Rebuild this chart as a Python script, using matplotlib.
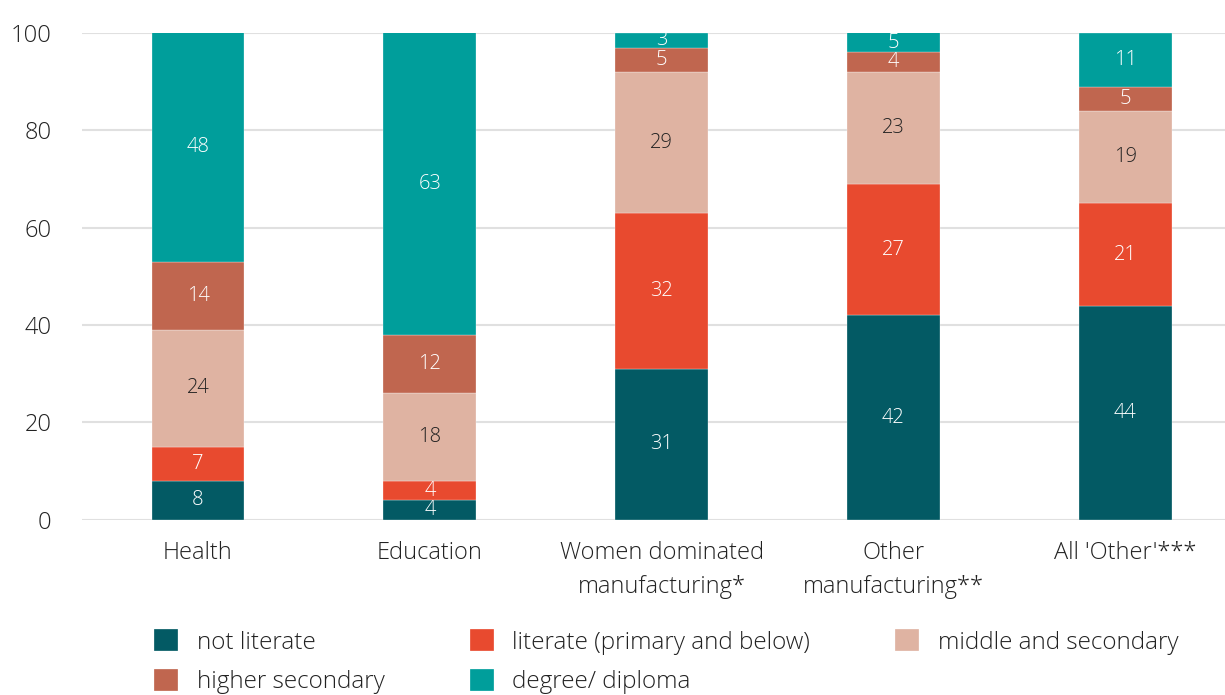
import matplotlib.pyplot as plt
import numpy as np

plt.rcParams['font.family'] = ['Open Sans', 'DejaVu Sans']

categories = ['Health', 'Education', 'Women dominated\nmanufacturing*',
              'Other\nmanufacturing**', "All 'Other'***"]
series = ['not literate', 'literate (primary and below)', 'middle and secondary',
          'higher secondary', 'degree/ diploma']
not_literate = [8, 4, 31, 42, 44]
literate = [7, 4, 32, 27, 21]
middle_secondary = [24, 18, 29, 23, 19]
higher_secondary = [14, 12, 5, 4, 5]
degree = [48, 63, 3, 5, 11]

colors = ['#035a64', '#e84a2f', '#dfb3a2', '#c0664f', '#009e9b']
label_colors = ['white', 'white', '#222222', 'white', 'white']

values = [not_literate, literate, middle_secondary, higher_secondary, degree]

fig = plt.figure(figsize=(12.25, 6.95), dpi=100)
ax = fig.add_axes([0.067, 0.252, 0.933, 0.7005])

x = np.arange(len(categories))
bottom = np.zeros(len(categories))
handles = []
for vals, col, lc, name in zip(values, colors, label_colors, series):
    vals = np.array(vals, dtype=float)
    bars = ax.bar(x, vals, width=0.40, bottom=bottom, color=col, label=name,
                  zorder=3, edgecolor='white', linewidth=0.2)
    handles.append(bars)
    for xi, b, v in zip(x, bottom, vals):
        top = min(b + v, 100)
        yc = (b + top) / 2
        ax.text(xi, yc, '%d' % v, ha='center', va='center', color=lc,
                fontsize=14.5, fontweight='light', zorder=4)
    bottom += vals

ax.set_ylim(0, 100)
ax.set_xlim(-0.5, 4.43)
ax.set_yticks(range(0, 101, 20))
ax.yaxis.grid(True, color='#e0e0e0', linewidth=1.5, zorder=0)
ax.set_axisbelow(True)
for s in ax.spines.values():
    s.set_visible(False)
ax.tick_params(axis='both', length=0, labelsize=17, colors='#222222')
ax.tick_params(axis='y', pad=22)
ax.tick_params(axis='x', pad=15)
ax.set_xticks(x)
ax.set_xticklabels(categories, fontweight='light', linespacing=1.55)
for t in ax.get_yticklabels():
    t.set_fontweight('light')

order = [0, 3, 1, 4, 2]
leg = fig.legend([handles[i] for i in order], [series[i] for i in order],
                 loc='lower left', bbox_to_anchor=(0.108, -0.03), ncol=3,
                 frameon=False, fontsize=17.5, handlelength=1.0, handleheight=1.0,
                 columnspacing=3.5, labelspacing=0.58, handletextpad=0.75)
for t in leg.get_texts():
    t.set_fontweight('light')
    t.set_color('#222222')

fig.savefig('out.png', dpi=100)
